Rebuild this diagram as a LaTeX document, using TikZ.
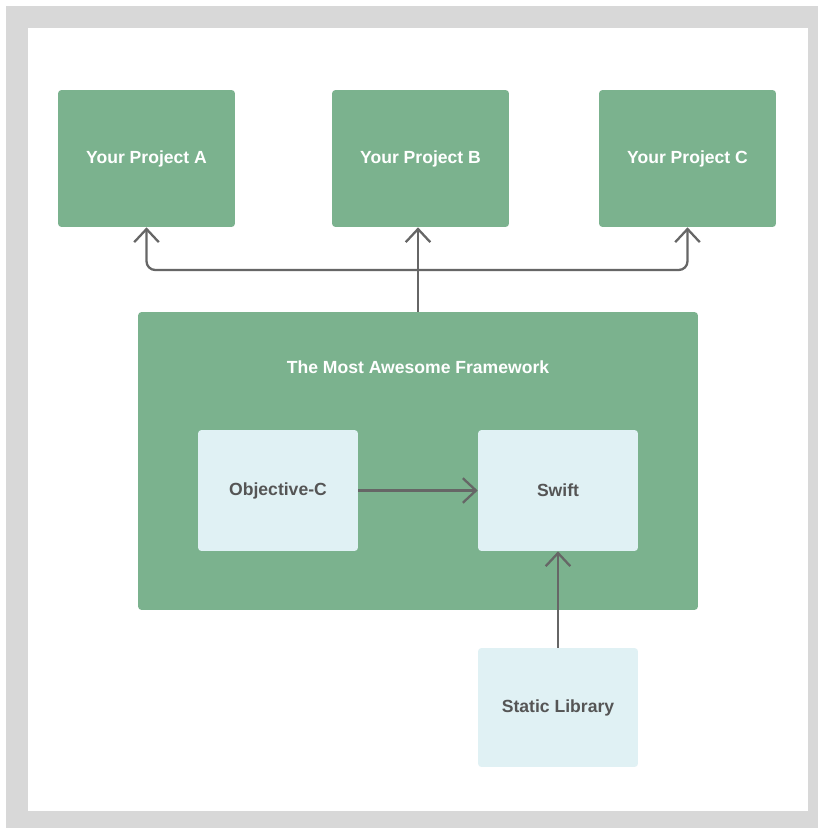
\documentclass[tikz,border=0pt]{standalone}
\usepackage{fontspec}
\setmainfont{Liberation Sans}
\usetikzlibrary{arrows.meta,positioning}

\definecolor{boxgreen}{RGB}{123,178,142}
\definecolor{boxblue}{RGB}{224,241,244}
\definecolor{linegray}{RGB}{102,102,102}
\definecolor{framegray}{RGB}{216,216,216}
\definecolor{textgray}{RGB}{85,85,85}

\tikzstyle{project}=[fill=boxgreen, text=white, font=\bfseries\fontsize{10}{12}\selectfont, minimum width=3.54cm, minimum height=2.74cm, rounded corners=2pt]
\tikzstyle{lang}=[fill=boxblue, text=textgray, font=\bfseries\fontsize{10}{12}\selectfont, minimum width=3.2cm, minimum height=2.42cm, rounded corners=2pt]
\tikzstyle{link}=[draw=linegray, line width=1.3pt, -{Straight Barb[length=7.5pt,width=14pt]}]

\begin{document}
\begin{tikzpicture}[x=0.02cm, y=-0.02cm]
          % frame
          \useasboundingbox (0,0) rectangle (818,828);
          \fill[framegray] (6,6) rectangle (818,828);
          \fill[white] (28,28) rectangle (808,811);

          \node (proja) [project] at (146.5,158.5) {Your Project A};
          \node (projb) [project] at (420.5,158.5) {Your Project B};
          \node (projc) [project] at (687.5,158.5) {Your Project C};

          \node (framework) [project, minimum width=11.2cm, minimum height=5.96cm] at (418,461) {};
          \node (title) [text=white, font=\bfseries\fontsize{10}{12}\selectfont] at (418,367) {The Most Awesome Framework};

          \node (objc) [lang] at (278,490.5) {Objective-C};
          \node (swift) [lang] at (558,490.5) {Swift};
          \node (static) [lang, minimum height=2.38cm] at (558,707.5) {Static Library};

          \coordinate (split) at (418,270);
          \draw [draw=linegray, line width=1.3pt] (framework.north) -- (split);
          \draw [link, rounded corners=5pt] (split) -| (proja.south);
          \draw [link] (split) -- (split |- projb.south);
          \draw [link, rounded corners=5pt] (split) -| (projc.south);

          \draw [link] (objc) -- (swift);
          \draw [link] (static) -- (swift);
    \end{tikzpicture}
\end{document}
